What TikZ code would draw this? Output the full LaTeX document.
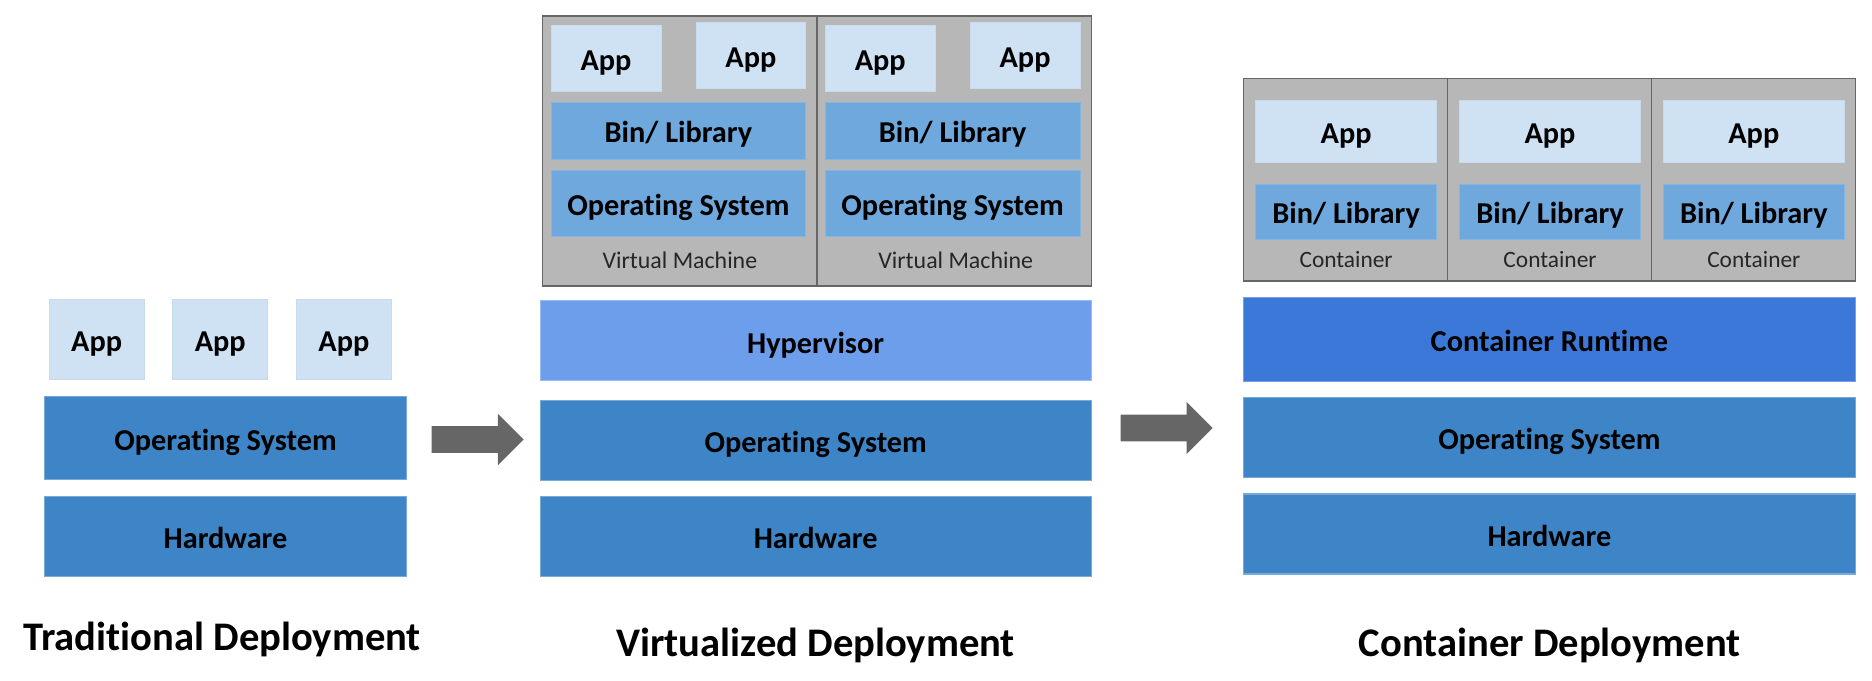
\documentclass[tikz,border=0pt]{standalone}
\usepackage{fontspec}
\setmainfont[Ligatures=NoCommon]{Carlito}
\usetikzlibrary{shapes.arrows}
\definecolor{appblue}{HTML}{CFE2F3}
\definecolor{libblue}{HTML}{6FA8DC}
\definecolor{osblue}{HTML}{3D85C6}
\definecolor{hypblue}{HTML}{6D9EEB}
\definecolor{rtblue}{HTML}{3C78D8}
\definecolor{boxgray}{HTML}{B7B7B7}
\definecolor{arrgray}{HTML}{666666}

\begin{document}
\begin{tikzpicture}[x=0.5pt,y=-0.5pt,
    lbl/.style = {inner sep=0, outer sep=0, text height=10.2pt, text depth=0pt,
        font=\fontsize{12.7}{15}\selectfont\bfseries},
    app/.style = {lbl, fill=appblue, draw=appblue!92!gray, line width=0.3pt},
    lib/.style = {lbl, fill=libblue, draw=libblue!85!white, line width=0.3pt},
    layer/.style = {lbl, fill=osblue, draw=osblue!70!white, line width=0.5pt, minimum height=33.5pt},
    vm/.style = {draw=arrgray, fill=boxgray, line width=0.6pt, inner sep=0},
    note/.style = {font=\fontsize{10}{12}\selectfont, text=black!85},
    title/.style = {font=\fontsize{17}{20}\selectfont\bfseries},
    move/.style = {single arrow, fill=arrgray, inner xsep=0, inner ysep=5.4pt,
        single arrow head extend=5.2pt, single arrow head indent=0, minimum height=38.5pt}]
    \useasboundingbox (0,0) rectangle (1568,570.4);

    % traditional
    \node[app, minimum width=39.75pt, minimum height=33.5pt] (tapp1) at (81,284) {App};
    \node[app, minimum width=39.75pt, minimum height=33.5pt] (tapp2) at (184.5,284) {App};
    \node[app, minimum width=39.75pt, minimum height=33.5pt] (tapp3) at (288,284) {App};
    \node[layer, minimum width=151.5pt, minimum height=35pt] (tos) at (188.9,366.9) {Operating System};
    \node[layer, minimum width=151.5pt] (thw) at (188.9,449.2) {Hardware};
    \node[title] (ttitle) at (186,536) {Traditional Deployment};

    \node[move] (arr1) at (394.5,368.2) {};

    % virtualized
    \node[vm, minimum width=114.95pt, minimum height=113.1pt] (vm1) at (569.5,126.5) {};
    \node[vm, minimum width=114.95pt, minimum height=113.1pt] (vm2) at (799.5,126.5) {};
    \node[app, minimum width=46pt, minimum height=27.6pt] (vapp1) at (507.6,48.6) {App};
    \node[app, minimum width=46pt, minimum height=27.6pt] (vapp2) at (628.9,46.4) {App};
    \node[app, minimum width=46pt, minimum height=27.6pt] (vapp3) at (737.3,48.6) {App};
    \node[app, minimum width=46pt, minimum height=27.6pt] (vapp4) at (858.6,46.4) {App};
    \node[lib, minimum width=106.6pt, minimum height=23.75pt] (vlib1) at (568.2,109.5) {Bin/ Library};
    \node[lib, minimum width=106.6pt, minimum height=23.75pt] (vlib2) at (797.9,109.5) {Bin/ Library};
    \node[lib, minimum width=106.6pt, minimum height=27.65pt] (vgos1) at (568.2,170) {Operating System};
    \node[lib, minimum width=106.6pt, minimum height=27.65pt] (vgos2) at (797.9,170) {Operating System};
    \node[note] (vml1) at (569.5,217.8) {Virtual Machine};
    \node[note] (vml2) at (800.5,217.8) {Virtual Machine};
    \node[layer, fill=hypblue, draw=hypblue!70!white, minimum width=230.75pt] (hyp) at (683.2,285.5) {Hypervisor};
    \node[layer, minimum width=230.75pt] (vos) at (683.2,369.2) {Operating System};
    \node[layer, minimum width=230.75pt] (vhw) at (683.2,449.5) {Hardware};
    \node[title] (vtitle) at (683.2,541) {Virtualized Deployment};

    \node[move] (arr2) at (971.5,358.5) {};

    % containers
    \node[vm, minimum width=85.4pt, minimum height=84.9pt] (ct1) at (1127,150.5) {};
    \node[vm, minimum width=85.4pt, minimum height=84.9pt] (ct2) at (1297.8,150.5) {};
    \node[vm, minimum width=85.4pt, minimum height=84.9pt] (ct3) at (1468.6,150.5) {};
    \node[app, minimum width=76pt, minimum height=26.25pt] (capp1) at (1127.5,110) {App};
    \node[app, minimum width=76pt, minimum height=26.25pt] (capp2) at (1298.3,110) {App};
    \node[app, minimum width=76pt, minimum height=26.25pt] (capp3) at (1469,110) {App};
    \node[lib, minimum width=76pt, minimum height=22.9pt] (clib1) at (1127.5,177.3) {Bin/ Library};
    \node[lib, minimum width=76pt, minimum height=22.9pt] (clib2) at (1298.3,177.3) {Bin/ Library};
    \node[lib, minimum width=76pt, minimum height=22.9pt] (clib3) at (1469,177.3) {Bin/ Library};
    \node[note, font=\fontsize{9.8}{12}\selectfont] (ctl1) at (1127.5,217.8) {Container};
    \node[note, font=\fontsize{9.8}{12}\selectfont] (ctl2) at (1298.3,217.8) {Container};
    \node[note, font=\fontsize{9.8}{12}\selectfont] (ctl3) at (1469,217.8) {Container};
    \node[layer, fill=rtblue, draw=rtblue!70!white, minimum width=256.2pt, minimum height=35pt] (crt) at (1297.8,284.5) {Container Runtime};
    \node[layer, minimum width=256.2pt] (cos) at (1297.8,366.4) {Operating System};
    \node[layer, minimum width=256.2pt] (chw) at (1297.8,447.3) {Hardware};
    \node[title] (ctitle) at (1298,541) {Container Deployment};
\end{tikzpicture}
\end{document}
